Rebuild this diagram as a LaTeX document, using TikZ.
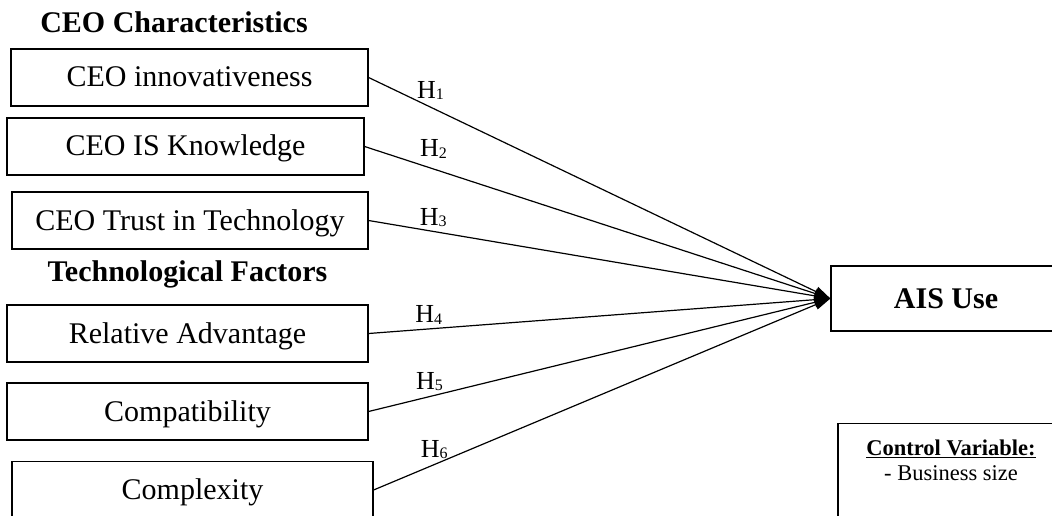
\documentclass[tikz,border=0pt]{standalone}
\usepackage{fontspec}
\setmainfont{Liberation Serif}
\usetikzlibrary{arrows.meta,positioning}

\newcommand{\hlabel}[1]{H\raisebox{-1.5pt}{\fontsize{16}{16}\selectfont #1}}

\begin{document}
\begin{tikzpicture}[
  x=1pt, y=-1pt,
  font=\fontsize{30}{36}\selectfont,
  factor/.style={draw, line width=1.2pt, minimum width=357pt, minimum height=57pt, inner sep=0pt, text height=22pt, text depth=3pt},
  heading/.style={font=\fontsize{30}{36}\selectfont\bfseries, anchor=base},
  hyp/.style={font=\fontsize{26}{30}\selectfont, inner sep=1pt},
  link/.style={->, line width=1.2pt},
  >={Triangle[length=16pt,width=10pt]}]
  \useasboundingbox (0,0) rectangle (1052,516);
  \clip (0,0) rectangle (1052,516);
  % CEO characteristics
  \node[heading] (ceohead) at (174,33) {CEO Characteristics};
  \node[factor] (innov) at (189.5,77.5) {CEO innovativeness};
  \node[factor] (know) at (185.5,146.5) {CEO IS Knowledge};
  \node[factor, minimum width=356pt] (trust) at (190,220.5) {CEO Trust in Technology};
  % technological factors
  \node[heading] (techhead) at (187.5,281) {Technological Factors};
  \node[factor, minimum width=361pt] (reladv) at (187.5,333.5) {Relative Advantage};
  \node[factor, minimum width=361pt] (compat) at (187.5,411.5) {Compatibility};
  \node[factor, minimum width=361pt] (complex) at (192.5,490) {Complexity};
  % outcome and control
  \node[draw, line width=1.2pt, minimum width=230pt, minimum height=65pt, font=\fontsize{30}{36}\selectfont\bfseries] (ais) at (946,298.5) {AIS Use};
  \node[draw, line width=1.2pt, anchor=north, minimum width=226pt, inner xsep=0pt, inner ysep=16pt, align=center, font=\fontsize{22.5}{25}\selectfont] (ctrl) at (951,423) {\underline{\textbf{Control Variable:}}\\- Business size\\\mbox{}\\\mbox{}};
  % hypotheses
  \draw[link] (innov.east) -- node[hyp, pos=0.134, above=6pt] {\hlabel{1}} (ais.west);
  \draw[link] (know.east) -- node[hyp, pos=0.148, above=9pt] {\hlabel{2}} (ais.west);
  \draw[link] (trust.east) -- node[hyp, pos=0.140, above=3pt] {\hlabel{3}} (ais.west);
  \draw[link] (reladv.east) -- node[hyp, pos=0.130, above=3pt] {\hlabel{4}} (ais.west);
  \draw[link] (compat.east) -- node[hyp, pos=0.132, above=4pt] {\hlabel{5}} (ais.west);
  \draw[link] (complex.east) -- node[hyp, pos=0.133, above=4pt] {\hlabel{6}} (ais.west);
\end{tikzpicture}
\end{document}
